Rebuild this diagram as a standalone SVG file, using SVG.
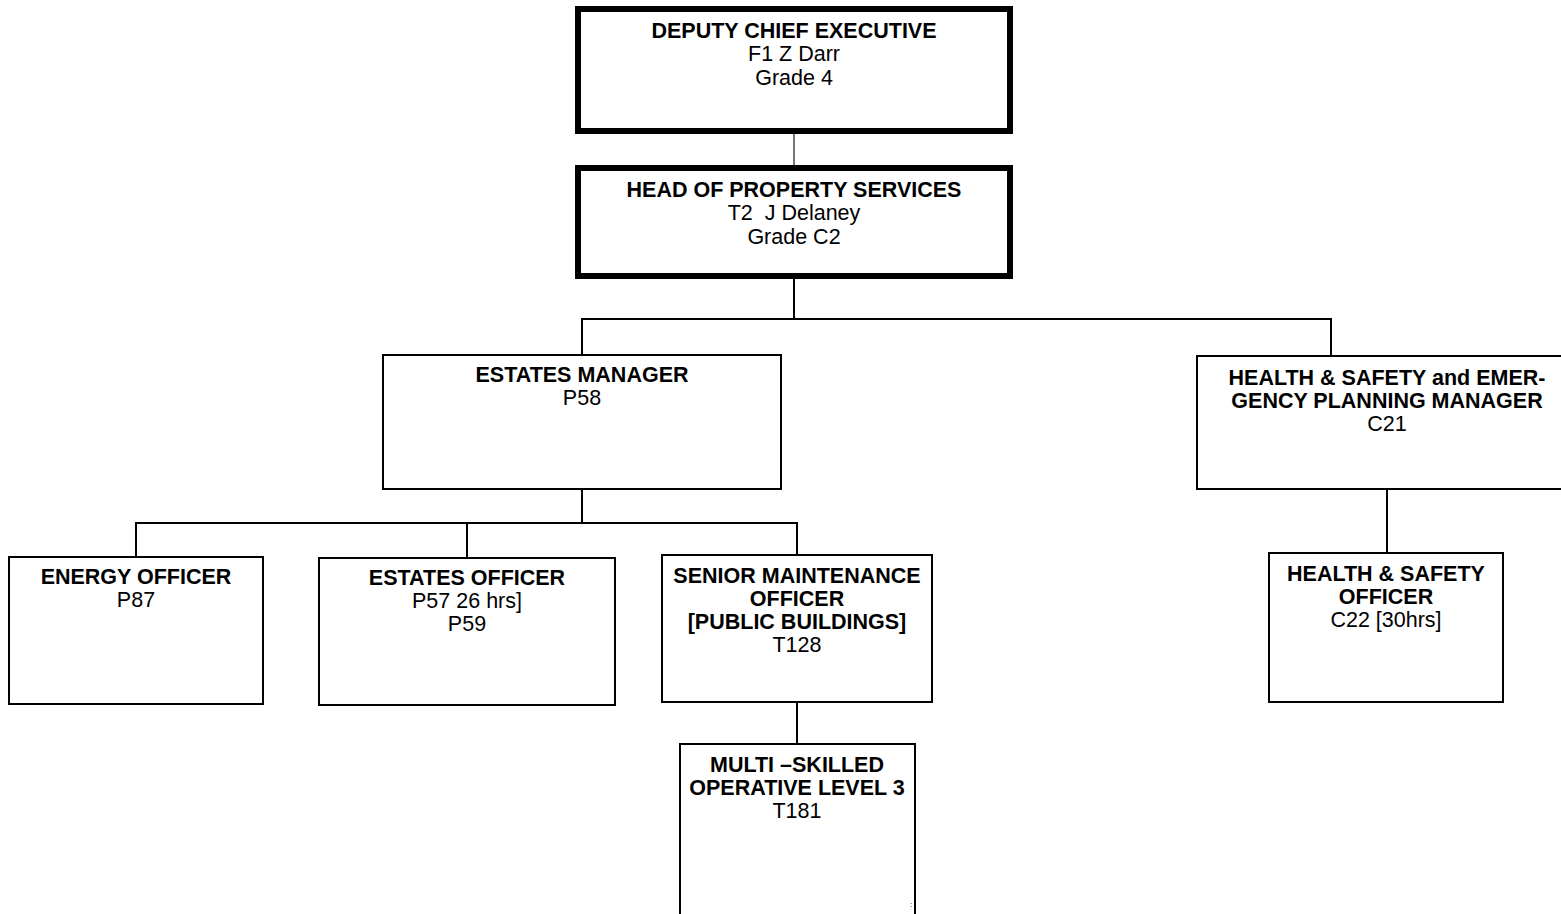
<svg xmlns="http://www.w3.org/2000/svg" width="1561" height="914" viewBox="0 0 1561 914">
  <style>
    .box { fill: #fff; stroke: #000; stroke-width: 2; }
    .box-heavy { fill: #fff; stroke: #000; stroke-width: 6; }
    .link { fill: none; stroke: #000; stroke-width: 2; }
    .link-thin { fill: none; stroke: #777; stroke-width: 2; }
    text { font-family: "Liberation Sans", Arial, sans-serif; font-size: 21.5px; fill: #000; text-anchor: middle; }
    .title { font-weight: bold; }
  </style>

  <rect width="1561" height="914" fill="#fff"/>

  <!-- reporting lines -->
  <g id="connectors">
    <line class="link-thin" x1="794" y1="134" x2="794" y2="165"/>
    <polyline class="link" points="794,279 794,319"/>
    <polyline class="link" points="582,355 582,319 1331,319 1331,355"/>
    <polyline class="link" points="582,489 582,523"/>
    <polyline class="link" points="136,557 136,523 797,523 797,555"/>
    <line class="link" x1="467" y1="523" x2="467" y2="558"/>
    <line class="link" x1="797" y1="702" x2="797" y2="744"/>
    <line class="link" x1="1387" y1="489" x2="1387" y2="553"/>
  </g>

  <g id="deputy-chief-executive">
    <rect class="box-heavy" x="578" y="9" width="432" height="122"/>
    <text class="title" x="794" y="38">DEPUTY CHIEF EXECUTIVE</text>
    <text x="794" y="61">F1 Z Darr</text>
    <text x="794" y="85">Grade 4</text>
  </g>

  <g id="head-of-property-services">
    <rect class="box-heavy" x="578" y="168" width="432" height="108"/>
    <text class="title" x="794" y="197">HEAD OF PROPERTY SERVICES</text>
    <text x="794" y="220" xml:space="preserve">T2  J Delaney</text>
    <text x="794" y="244">Grade C2</text>
  </g>

  <g id="estates-manager">
    <rect class="box" x="383" y="355" width="398" height="134"/>
    <text class="title" x="582" y="382">ESTATES MANAGER</text>
    <text x="582" y="405">P58</text>
  </g>

  <g id="hs-emergency-planning-manager">
    <rect class="box" x="1197" y="356" width="380" height="133"/>
    <text class="title" x="1387" y="385">HEALTH &amp; SAFETY and EMER-</text>
    <text class="title" x="1387" y="408">GENCY PLANNING MANAGER</text>
    <text x="1387" y="431">C21</text>
  </g>

  <g id="energy-officer">
    <rect class="box" x="9" y="557" width="254" height="147"/>
    <text class="title" x="136" y="584">ENERGY OFFICER</text>
    <text x="136" y="607">P87</text>
  </g>

  <g id="estates-officer">
    <rect class="box" x="319" y="558" width="296" height="147"/>
    <text class="title" x="467" y="585">ESTATES OFFICER</text>
    <text x="467" y="608">P57 26 hrs]</text>
    <text x="467" y="631">P59</text>
  </g>

  <g id="senior-maintenance-officer">
    <rect class="box" x="662" y="555" width="270" height="147"/>
    <text class="title" x="797" y="583">SENIOR MAINTENANCE</text>
    <text class="title" x="797" y="606">OFFICER</text>
    <text class="title" x="797" y="629">[PUBLIC BUILDINGS]</text>
    <text x="797" y="652">T128</text>
  </g>

  <g id="multi-skilled-operative">
    <rect class="box" x="680" y="744" width="235" height="190"/>
    <text class="title" x="797" y="772">MULTI –SKILLED</text>
    <text class="title" x="797" y="795">OPERATIVE LEVEL 3</text>
    <text x="797" y="818">T181</text>
    <text x="911" y="907" style="font-size:8px">:</text>
  </g>

  <g id="health-safety-officer">
    <rect class="box" x="1269" y="553" width="234" height="149"/>
    <text class="title" x="1386" y="581">HEALTH &amp; SAFETY</text>
    <text class="title" x="1386" y="604">OFFICER</text>
    <text x="1386" y="627">C22 [30hrs]</text>
  </g>
</svg>
